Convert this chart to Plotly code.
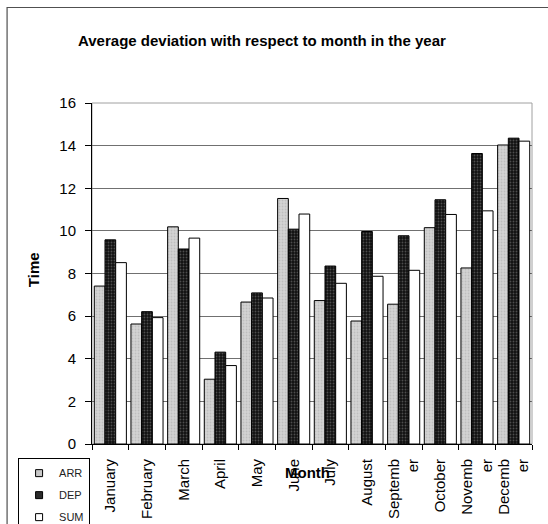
import plotly.graph_objects as go

# Average deviation per month for arrivals, departures and their sum
months = ["January", "February", "March", "April", "May", "June", "July",
          "August", "September", "October", "November", "December"]
month_labels = ["January", "February", "March", "April", "May", "June", "July",
                "August", "Septemb<br>er", "October", "Novemb<br>er", "Decemb<br>er"]
arr = [7.41, 5.63, 10.19, 3.04, 6.66, 11.52, 6.73, 5.77, 6.56, 10.15, 8.26, 14.03]
dep = [9.58, 6.21, 9.15, 4.31, 7.09, 10.08, 8.35, 9.97, 9.77, 11.46, 13.63, 14.35]
tot = [8.51, 5.93, 9.66, 3.68, 6.85, 10.79, 7.54, 7.87, 8.15, 10.77, 10.94, 14.21]
series_names = ["ARR", "DEP", "SUM"]

FONT = "Liberation Sans, Arial, sans-serif"

styles = [
    dict(color="#cfcfcf", pattern=dict(shape=".", bgcolor="#d4d4d4", fgcolor="#a8a8a8",
                                       size=3, solidity=0.3)),
    dict(color="#111111", pattern=dict(shape=".", bgcolor="#111111", fgcolor="#8a8a8a",
                                       size=3, solidity=0.3)),
    dict(color="white"),
]
swatch_colors = ["#c8c8c8", "#2a2a2a", "white"]

fig = go.Figure()
for name, vals, st in zip(series_names, [arr, dep, tot], styles):
    fig.add_bar(x=months, y=vals, name=name, showlegend=False,
                marker=dict(line=dict(color="black", width=1), **st))

# Small square legend swatches, one per series
for i, (name, col) in enumerate(zip(series_names, swatch_colors)):
    fig.add_scatter(x=[None], y=[None], mode="markers", name=name,
                    legendgroup=str(i),
                    marker=dict(symbol="square", size=7, color=col,
                                line=dict(color="black", width=1)))

# Plot-area frame (top/right in gray) and the outer chart border
fig.add_shape(type="rect", xref="paper", yref="paper", x0=0, x1=1, y0=0, y1=1,
              line=dict(color="#a0a0a0", width=1), layer="below")
fig.add_shape(type="rect", xref="paper", yref="paper",
              x0=-0.193, x1=1.2, y0=-0.5, y1=1.28,
              line=dict(color="#505050", width=1.2), layer="below")

fig.add_annotation(text="<b>Time</b>", xref="paper", yref="paper",
                   x=-0.134, y=0.51, xanchor="center", yanchor="middle",
                   textangle=-90, showarrow=False,
                   font=dict(family=FONT, size=15, color="black"))
fig.add_annotation(text="<b>Month</b>", xref="paper", yref="paper",
                   x=0.489, y=-0.084, xanchor="center", yanchor="middle",
                   showarrow=False,
                   font=dict(family=FONT, size=15, color="black"))

fig.update_layout(
    width=548, height=524,
    margin=dict(l=92, r=16, t=103, b=80, autoexpand=False),
    paper_bgcolor="white", plot_bgcolor="white",
    font=dict(family=FONT, size=13, color="black"),
    title=dict(text="<b>Average deviation with respect to month in the year</b>",
               x=0.478, xanchor="center", y=0.923, yanchor="middle",
               font=dict(family=FONT, size=15, color="black")),
    barmode="group", bargap=0.125, bargroupgap=0,
    showlegend=True,
    legend=dict(x=-0.168, y=-0.04, xanchor="left", yanchor="top",
                bordercolor="black", borderwidth=1, bgcolor="white",
                itemwidth=30, tracegroupgap=3,
                font=dict(family=FONT, size=11, color="#222")),
    xaxis=dict(tickvals=months, ticktext=month_labels, tickangle=-90,
               showline=True, linecolor="black", linewidth=1,
               ticks="outside", ticklen=5, tickcolor="black",
               tickson="boundaries", showgrid=False, ticklabelstandoff=8,
               tickfont=dict(family=FONT, size=15, color="black")),
    yaxis=dict(range=[0, 16], dtick=2, showline=True, linecolor="black",
               linewidth=1, ticks="outside", ticklen=6, tickcolor="black",
               showgrid=True, gridcolor="#707070", gridwidth=1, zeroline=False,
               ticklabelstandoff=6,
               tickfont=dict(family=FONT, size=15, color="black")),
)

fig.write_html("out.html")
